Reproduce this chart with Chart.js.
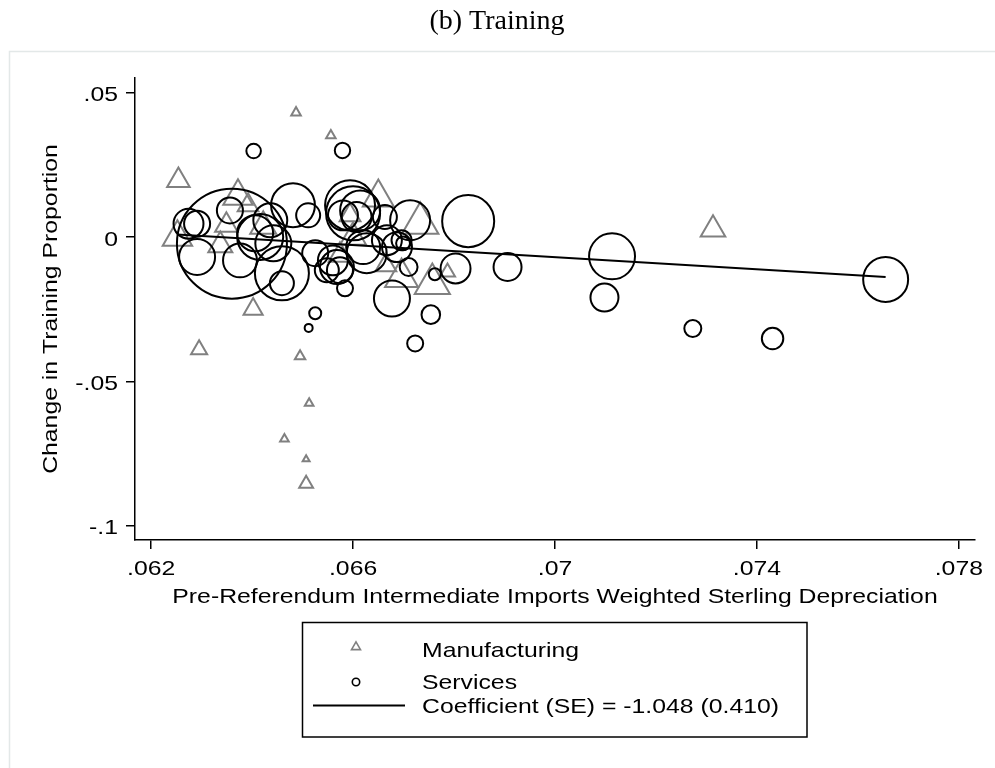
<!DOCTYPE html>
<html>
<head>
<meta charset="utf-8">
<script src="https://cdn.jsdelivr.net/npm/chart.js@4.4.1/dist/chart.umd.min.js"></script>
<style>
  html, body { margin: 0; padding: 0; background: #fff; }
  #wrap { position: relative; width: 995px; height: 768px; }
</style>
</head>
<body>
<div id="wrap"><canvas id="trainingChart" width="995" height="768"></canvas></div>
<script>
// Manufacturing industries: depreciation exposure, change in training share, employment weight
const manufX = [0.06487, 0.06556, 0.06254, 0.06252, 0.06372, 0.06392, 0.06422, 0.06337, 0.06594,
                0.06650, 0.06733, 0.06600, 0.06696, 0.06757, 0.06787, 0.06402, 0.06295, 0.06495,
                0.06513, 0.06464, 0.06507, 0.06507, 0.07313, 0.06349, 0.06574, 0.06665];
const manufY = [0.0431, 0.0352, 0.0196, -0.0001, 0.0141, 0.0110, 0.0037, -0.0029, 0.0075,
                0.0137, 0.0048, -0.0001, -0.0140, -0.0162, -0.0122, -0.0250, -0.0390, -0.0413,
                -0.0576, -0.0700, -0.0770, -0.0855, 0.0026, 0.0041, -0.0063, -0.0098];
const manufWeight = [1.9, 1.9, 10.6, 18, 18, 9, 14, 12, 9,
                     20, 27.6, 14, 22.6, 25.8, 4.8, 7.6, 5.4, 2.25,
                     1.56, 1.56, 1, 4, 12.6, 10.6, 10.6, 9];

// Service industries
const servX = [0.06403, 0.06579, 0.06828, 0.06906, 0.07113, 0.07098, 0.07273, 0.07431, 0.07655, 0.06803,
               0.06754, 0.06723, 0.06762, 0.06677, 0.06710, 0.06687, 0.06696, 0.06713, 0.06663, 0.06600,
               0.06614, 0.06607, 0.06627, 0.06574, 0.06584, 0.06525, 0.06512, 0.06274, 0.06291, 0.06291,
               0.06360, 0.06356, 0.06416, 0.06406, 0.06376, 0.06436, 0.06481, 0.06511, 0.06459, 0.06459,
               0.06442, 0.06525, 0.06560, 0.06594, 0.06580, 0.06620, 0.06667, 0.06699, 0.06548, 0.06568];
const servY = [0.0298, 0.0300, 0.0055, -0.0104, -0.0067, -0.0210, -0.0317, -0.0352, -0.0147, -0.0109,
               -0.0269, -0.0369, -0.0129, -0.0213, -0.0104, -0.0035, -0.0011, 0.0058, 0.0069, 0.0082,
               0.0092, 0.0069, -0.0056, -0.0115, -0.0178, -0.0264, -0.0315, 0.0046, 0.0046, -0.0069,
               -0.0023, 0.0092, 0.0000, 0.0013, -0.0081, 0.0058, 0.0110, 0.0075, -0.0126, -0.0160,
               -0.0022, -0.0056, -0.0081, 0.0110, 0.0075, -0.0035, -0.0011, -0.0022, -0.0115, -0.0104];
const servWeight = [3.3, 3.7, 42.3, 12.25, 33, 12.25, 4.5, 7.2, 31.6, 14,
                    5.4, 4, 2.25, 20.25, 5, 14, 6.25, 25, 9, 45.6,
                    25, 14, 25, 10.6, 4, 2.25, 1, 14, 10.6, 20.25,
                    189, 10.6, 33, 20.25, 18, 18, 30, 9, 45.6, 9,
                    20.25, 10.6, 14, 39, 14, 18, 14, 3, 9, 18];

// Weighted fit
const fitSlope = -1.048;
const fitSE = 0.410;
const fitIntercept = 0.06637;
const fitX = [0.06251, 0.07655];

const xTicks = [0.062, 0.066, 0.070, 0.074, 0.078];
const xTickLabels = ['.062', '.066', '.07', '.074', '.078'];
const yTicks = [0.05, 0, -0.05, -0.1];
const yTickLabels = ['.05', '0', '-.05', '-.1'];

const xTitle = 'Pre-Referendum Intermediate Imports Weighted Sterling Depreciation';
const yTitle = 'Change in Training Proportion';
const keyLabels = ['Manufacturing', 'Services',
                   'Coefficient (SE) = ' + fitSlope.toFixed(3) + ' (' + fitSE.toFixed(3) + ')'];

const SANS = "'Liberation Sans', Arial, sans-serif";
const TEXT_FONT = '21px ' + SANS;
const WIDEN = 1.18;   // the graph's sans face runs wider than Arial
const GREY = '#808080';

function markerRadius(w) {
    return 4 * Math.sqrt(w);
}

function toPoints(xs, ys) {
    return xs.map((x, i) => ({ x: x, y: ys[i] }));
}

const fitPoints = fitX.map(x => ({ x: x, y: fitIntercept + fitSlope * x }));

function wideText(ctx, text, x, y, align, angle) {
    ctx.save();
    ctx.translate(x, y);
    if (angle) ctx.rotate(angle);
    ctx.scale(WIDEN, 1);
    ctx.textAlign = align;
    ctx.fillText(text, 0, 0);
    ctx.restore();
}

// Frame, title, tick labels, axis titles and the boxed key
const decorPlugin = {
    id: 'decor',
    beforeDraw(chart) {
        const ctx = chart.ctx;
        ctx.save();
        ctx.fillStyle = '#fff';
        ctx.fillRect(0, 0, chart.width, chart.height);
        ctx.strokeStyle = '#e3e8e8';
        ctx.lineWidth = 1.5;
        ctx.strokeRect(9.5, 51.5, 1000, 800);
        ctx.restore();
    },
    afterDraw(chart) {
        const ctx = chart.ctx;
        const xs = chart.scales.x, ys = chart.scales.y;
        ctx.save();
        ctx.fillStyle = '#000';

        ctx.font = "28px 'Liberation Serif', 'Times New Roman', serif";
        ctx.textAlign = 'center';
        ctx.textBaseline = 'middle';
        ctx.fillText('(b) Training', 497, 22);

        ctx.font = TEXT_FONT;
        ctx.textBaseline = 'alphabetic';
        xTicks.forEach((v, i) => wideText(ctx, xTickLabels[i], xs.getPixelForValue(v), 575, 'center'));
        yTicks.forEach((v, i) => wideText(ctx, yTickLabels[i], 118, ys.getPixelForValue(v) + 8.5, 'right'));

        const area = chart.chartArea;
        wideText(ctx, xTitle, (area.left + area.right) / 2, 603, 'center');
        wideText(ctx, yTitle, 57, (area.top + area.bottom) / 2, 'center', -Math.PI / 2);

        // key
        ctx.strokeStyle = '#000';
        ctx.lineWidth = 1.5;
        ctx.strokeRect(302.5, 622.5, 504.5, 114.5);

        ctx.strokeStyle = GREY;
        ctx.lineWidth = 1.6;
        const tr = 5.2, tx = 356, ty = 647;
        ctx.beginPath();
        ctx.moveTo(tx, ty - tr);
        ctx.lineTo(tx + tr * Math.sqrt(3) / 2, ty + tr / 2);
        ctx.lineTo(tx - tr * Math.sqrt(3) / 2, ty + tr / 2);
        ctx.closePath();
        ctx.stroke();

        ctx.strokeStyle = '#000';
        ctx.beginPath();
        ctx.arc(356, 682, 3.7, 0, Math.PI * 2);
        ctx.stroke();

        ctx.lineWidth = 2;
        ctx.beginPath();
        ctx.moveTo(313, 705.5);
        ctx.lineTo(405, 705.5);
        ctx.stroke();

        wideText(ctx, keyLabels[0], 422, 657, 'left');
        wideText(ctx, keyLabels[1], 422, 689, 'left');
        wideText(ctx, keyLabels[2], 422, 713, 'left');
        ctx.restore();
    }
};

const ctx = document.getElementById('trainingChart').getContext('2d');
new Chart(ctx, {
    type: 'scatter',
    data: {
        datasets: [
            {
                label: 'Coefficient (SE)',
                data: fitPoints,
                showLine: true,
                borderColor: '#000',
                borderWidth: 2,
                pointRadius: 0,
                order: 0
            },
            {
                label: 'Services',
                data: toPoints(servX, servY),
                pointStyle: 'circle',
                borderColor: '#000',
                backgroundColor: 'rgba(0,0,0,0)',
                borderWidth: 2,
                pointRadius: c => markerRadius(servWeight[c.dataIndex]),
                order: 1
            },
            {
                label: 'Manufacturing',
                data: toPoints(manufX, manufY),
                pointStyle: 'triangle',
                borderColor: GREY,
                backgroundColor: 'rgba(0,0,0,0)',
                borderWidth: 2,
                pointRadius: c => markerRadius(manufWeight[c.dataIndex]),
                order: 2
            }
        ]
    },
    options: {
        responsive: false,
        animation: false,
        devicePixelRatio: 1,
        events: [],
        clip: false,
        layout: { autoPadding: false, padding: { left: 0, top: 78, right: 20, bottom: 0 } },
        plugins: {
            legend: { display: false },
            tooltip: { enabled: false }
        },
        scales: {
            x: {
                type: 'linear',
                min: 0.06168,
                max: 0.07832,
                afterBuildTicks: s => { s.ticks = xTicks.map(v => ({ value: v })); },
                afterFit: s => { s.height = 228; s.paddingLeft = 0; s.paddingRight = 0; },
                ticks: { display: false },
                grid: { drawOnChartArea: false, tickLength: 9, color: '#000', lineWidth: 1.5 },
                border: { color: '#000', width: 1.5 }
            },
            y: {
                type: 'linear',
                min: -0.105,
                max: 0.0551,
                afterBuildTicks: s => { s.ticks = yTicks.map(v => ({ value: v })); },
                afterFit: s => { s.width = 135; s.paddingTop = 0; s.paddingBottom = 0; },
                ticks: { display: false },
                grid: { drawOnChartArea: false, tickLength: 9, color: '#000', lineWidth: 1.5 },
                border: { color: '#000', width: 1.5 }
            }
        }
    },
    plugins: [decorPlugin]
});
</script>
</body>
</html>
